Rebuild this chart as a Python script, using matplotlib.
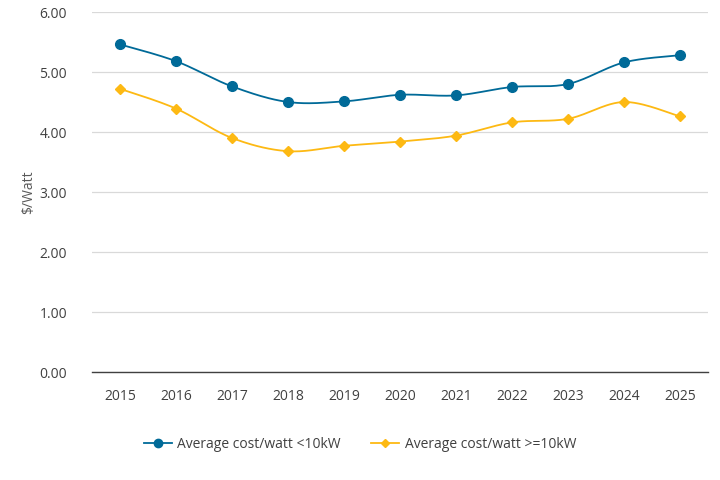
import numpy as np
import matplotlib
matplotlib.use("Agg")
import matplotlib.pyplot as plt

plt.rcParams['font.family'] = ['Open Sans', 'DejaVu Sans']

years = ['2015', '2016', '2017', '2018', '2019', '2020', '2021', '2022', '2023', '2024', '2025']
small = [5.46, 5.18, 4.76, 4.50, 4.51, 4.62, 4.61, 4.75, 4.80, 5.16, 5.28]
large = [4.72, 4.39, 3.90, 3.68, 3.77, 3.84, 3.94, 4.16, 4.22, 4.50, 4.26]

blue = '#006A98'
gold = '#FDB913'
txt = '#404040'


def smooth(x, y, n=30, t=0.5):
    # cardinal spline through the points, only for drawing the line
    x = np.asarray(x, float)
    y = np.asarray(y, float)
    px = np.concatenate([[x[0]], x, [x[-1]]])
    py = np.concatenate([[y[0]], y, [y[-1]]])
    xs, ys = [], []
    for i in range(1, len(px) - 2):
        s = np.linspace(0, 1, n)
        m0x = t * (px[i + 1] - px[i - 1]); m1x = t * (px[i + 2] - px[i])
        m0y = t * (py[i + 1] - py[i - 1]); m1y = t * (py[i + 2] - py[i])
        h00 = 2 * s**3 - 3 * s**2 + 1
        h10 = s**3 - 2 * s**2 + s
        h01 = -2 * s**3 + 3 * s**2
        h11 = s**3 - s**2
        xs.append(h00 * px[i] + h10 * m0x + h01 * px[i + 1] + h11 * m1x)
        ys.append(h00 * py[i] + h10 * m0y + h01 * py[i + 1] + h11 * m1y)
    return np.concatenate(xs), np.concatenate(ys)


fig = plt.figure(figsize=(7.2, 4.8), dpi=100)
ax = fig.add_axes([0.1278, 0.225, 0.8556, 0.75])

x = np.arange(len(years))
sx, sy = smooth(x, small)
lx, ly = smooth(x, large)
ax.plot(sx, sy, color=blue, lw=1.3, zorder=3)
ax.plot(lx, ly, color=gold, lw=1.3, zorder=3)
ax.plot(x, small, 'o', color=blue, ms=7, zorder=4)
ax.plot(x, large, 'D', color=gold, ms=5, zorder=4)

# legend proxies
ax.plot([], [], '-o', color=blue, lw=1.3, ms=6, label='Average cost/watt <10kW')
ax.plot([], [], '-D', color=gold, lw=1.3, ms=4.5, label='Average cost/watt >=10kW')

ax.set_xlim(-0.5, len(years) - 0.5)
ax.set_ylim(0, 6)
ax.set_yticks(np.arange(0, 7, 1))
ax.set_yticklabels([f'{v:.2f}' for v in range(7)])
ax.set_xticks(x)
ax.set_xticklabels(years)
ax.tick_params(axis='both', length=0, labelsize=10, colors=txt)
ax.tick_params(axis='x', pad=12)
ax.tick_params(axis='y', pad=18)
ax.grid(axis='y', color='#D9D9D9', lw=0.9)
ax.set_axisbelow(True)
for s in ['top', 'right', 'left']:
    ax.spines[s].set_visible(False)
ax.spines['bottom'].set_color('#404040')
ax.spines['bottom'].set_linewidth(1.0)
ax.set_ylabel('$/Watt', color='#595959', fontsize=10, labelpad=2)

leg_h = [ax.lines[-2], ax.lines[-1]]
fig.legend(handles=leg_h, loc='center', bbox_to_anchor=(0.5, 0.075), ncol=2,
           frameon=False, fontsize=10, labelcolor=txt, columnspacing=2.2,
           handlelength=2.0, handletextpad=0.4)

fig.savefig('out.png', dpi=100)
